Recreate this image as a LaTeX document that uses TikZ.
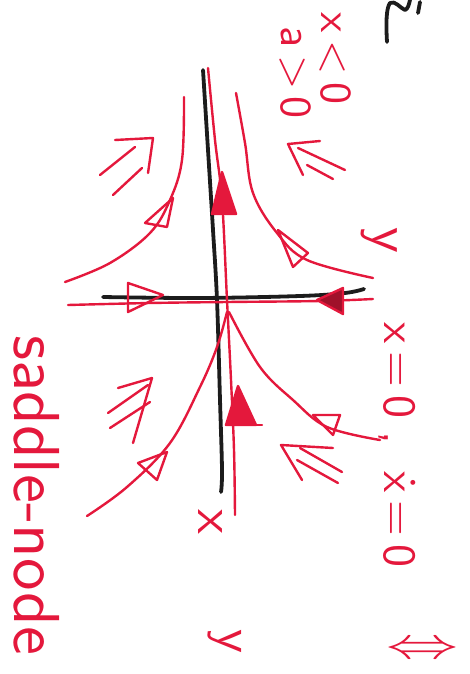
\documentclass[tikz,border=0pt]{standalone}
\definecolor{pen}{RGB}{228,24,60}
\definecolor{ink}{RGB}{28,28,28}
\begin{document}
\begin{tikzpicture}[x=1pt,y=-1pt,
  redline/.style={pen,line width=2.4pt,line cap=round,line join=round},
  blackline/.style={ink,line width=3.8pt,line cap=round,line join=round},
  lbl/.style={pen,rotate=-90,inner sep=0pt,anchor=base west,font=\sffamily}]
\useasboundingbox (0,0) rectangle (470,674);
% black axes
\draw[blackline] plot[smooth,tension=0.6] coordinates {(203,70) (208,150) (213,230) (217,300) (220,400) (222,470) (221,492)};
\draw[blackline] plot[smooth,tension=0.6] coordinates {(103,297) (200,298) (300,296) (345,293) (364,289)};
% red invariant lines
\draw[redline] plot[smooth,tension=0.6] coordinates {(208,68) (215,140) (222,200) (227,300) (231,380) (234,450) (235,515)};
\draw[redline] plot[smooth,tension=0.6] coordinates {(68,305) (150,303) (227,302) (320,301) (373,299)};
% red trajectories
\draw[redline] plot[smooth,tension=0.6] coordinates {(184,97) (182,160) (170,200) (150,233) (110,263) (65,282)};
\draw[redline] plot[smooth,tension=0.6] coordinates {(236,93) (245,143) (253,193) (277,233) (307,260) (373,278)};
\draw[redline] plot[smooth,tension=0.6] coordinates {(227,312) (217,347) (200,387) (170,443) (127,487) (87,516)};
\draw[redline] plot[smooth,tension=0.6] coordinates {(229,312) (260,367) (293,400) (327,427) (380,440)};
% arrowheads on the lines
\draw[redline,fill=pen] (222,172) -- (212,214) -- (236,214) -- cycle;
\draw[redline,fill=pen] (238,386) -- (226,425) -- (256,425) -- cycle;
\draw[redline] (226,425) -- (262,425);
\draw[redline] (163,295) -- (128,283) -- (128,312) -- cycle;
\draw[redline,fill=pen!70!black] (317,300) -- (343,288) -- (343,314) -- cycle;
\draw[redline] (173,198) -- (145,223) -- (167,227) -- cycle;
\draw[redline] (278,230) -- (308,253) -- (293,267) -- cycle;
\draw[redline] (167,452) -- (138,463) -- (157,480) -- cycle;
\draw[redline] (313,415) -- (340,415) -- (333,435) -- cycle;
% double flow arrows
\draw[redline] (115,140) -- (153,138) -- (148,173);
\draw[redline] (100,175) -- (135,147);
\draw[redline] (113,195) -- (142,168);
\draw[redline] (320,141) -- (288,144) -- (303,175);
\draw[redline] (298,148) -- (345,170);
\draw[redline] (307,165) -- (333,179);
\draw[redline] (118,388) -- (152,378) -- (133,443);
\draw[redline] (108,413) -- (148,385);
\draw[redline] (110,428) -- (150,402);
\draw[redline] (333,448) -- (281,445) -- (302,480);
\draw[redline] (300,448) -- (342,472);
\draw[redline] (297,460) -- (338,483);
% black fragment at the top
\draw[blackline] (387,42) .. controls (386,25) and (386,8) .. (390,3) .. controls (395,0) and (400,8) .. (405,10) .. controls (408,9) and (409,4) .. (410,0);
\draw[blackline] (418,13) -- (420,2);
% texts
\node[lbl,scale=6.5] (sn) at (14,334) {saddle-node};
\node[lbl,scale=4.6] (cond) at (384,322) {x\,=\,0\;,\; $\dot{\mathsf{x}}$\,=\,0};
\node[lbl,scale=5.4] (xl) at (198,508) {x};
\node[lbl,scale=5.6] (yl) at (372,226) {y};
\node[lbl,scale=5.2] (yb) at (218,628) {y};
\node[lbl,scale=4.4] (t1) at (321,12) {x\,<\,0};
\node[lbl,scale=4.4] (t2) at (281,26) {a\,>\,0};
\node[pen,inner sep=0pt,xscale=7.2,yscale=4.4] (eq) at (422,650) {$\Leftrightarrow$};
\end{tikzpicture}
\end{document}
